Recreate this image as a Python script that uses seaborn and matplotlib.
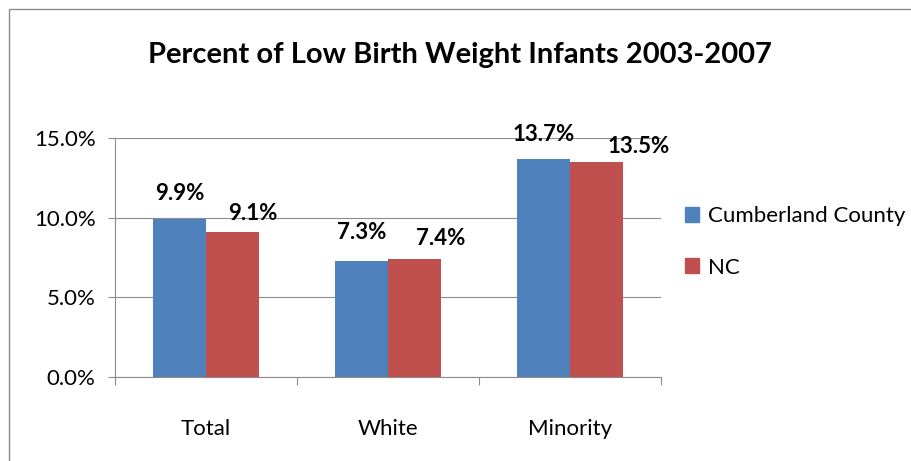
import pandas as pd
import matplotlib
matplotlib.use("Agg")
import matplotlib.pyplot as plt
import seaborn as sns
from matplotlib.patches import Rectangle
from matplotlib.ticker import FuncFormatter, FixedLocator

# =========================================================
# DATA
# =========================================================

categories = ["Total", "White", "Minority"]
series = ["Cumberland County", "NC"]
cumberland = [9.9, 7.3, 13.7]
nc = [9.1, 7.4, 13.5]

colors = ["#4F81BD", "#C0504D"]

# label offsets (pixels) as placed in the original chart
label_dx = [[0, 0, 0], [21, 26, 42]]
label_dy = [[26, 28, 24], [19, 21, 15]]

df = pd.DataFrame({
    "group": categories * 2,
    "area": [series[0]] * 3 + [series[1]] * 3,
    "value": cumberland + nc,
})

# =========================================================
# PLOT
# =========================================================

sns.set_theme(style="white")
plt.rcParams["font.family"] = ["Lato", "DejaVu Sans"]
plt.rcParams["text.color"] = "black"

fig = plt.figure(figsize=(9.12, 4.61), dpi=100)
ax = fig.add_axes([115 / 912, 1 - 377 / 461, 546 / 912, 239 / 461])

sns.barplot(data=df, x="group", y="value", hue="area", order=categories,
            hue_order=series, palette=colors, width=0.577, saturation=1,
            linewidth=0, ax=ax, zorder=3)

ax.set_ylim(0, 15)
ax.set_xlim(-0.5, 2.5)
ax.set_yticks([0, 5, 10, 15])
ax.yaxis.set_major_formatter(FuncFormatter(lambda v, p: f"{v:.1f}%"))
ax.grid(axis="y", color="#8c8c8c", linewidth=0.8, zorder=0)
ax.set_xlabel("")
ax.set_ylabel("")

for side in ["top", "right"]:
    ax.spines[side].set_visible(False)
for side in ["left", "bottom"]:
    ax.spines[side].set_color("#8c8c8c")
    ax.spines[side].set_linewidth(0.8)

ax.tick_params(axis="y", which="major", left=True, length=5, width=0.8,
               color="#8c8c8c", pad=9, labelsize=16, labelcolor="black")
ax.tick_params(axis="x", which="major", length=0, pad=30, labelsize=16,
               labelcolor="black")
ax.xaxis.set_minor_locator(FixedLocator([-0.5, 0.5, 1.5, 2.5]))
ax.tick_params(axis="x", which="minor", bottom=True, length=6, width=0.8,
               color="#8c8c8c", direction="out")

# data labels
for i, cont in enumerate(ax.containers):
    for j, (bar, v) in enumerate(zip(cont, cont.datavalues)):
        ax.annotate(f"{v:.1f}%",
                    (bar.get_x() + bar.get_width() / 2, bar.get_height()),
                    xytext=(label_dx[i][j] * 0.72, label_dy[i][j] * 0.72),
                    textcoords="offset points", ha="center", va="center",
                    fontsize=16, fontweight="bold", color="black")

# legend
handles = [Rectangle((0, 0), 1, 1, color=c) for c in colors]
ax.legend(handles, series, loc="center left",
          bbox_to_anchor=(665 / 912, 1 - 242 / 461),
          bbox_transform=fig.transFigure, frameon=False, fontsize=16,
          handlelength=0.65, handleheight=0.65, handletextpad=0.4,
          labelspacing=1.4, labelcolor="black")

fig.text(460 / 912, 1 - 55 / 461, "Percent of Low Birth Weight Infants 2003-2007",
         ha="center", va="center", fontsize=21, fontweight="bold",
         color="black")

# chart border
fig.patches.append(Rectangle((9 / 912, -0.1), 1.2, 1 - 9 / 461 + 0.1,
                             transform=fig.transFigure, fill=False,
                             edgecolor="#8c8c8c", linewidth=1))

fig.savefig("out.png", dpi=100)
